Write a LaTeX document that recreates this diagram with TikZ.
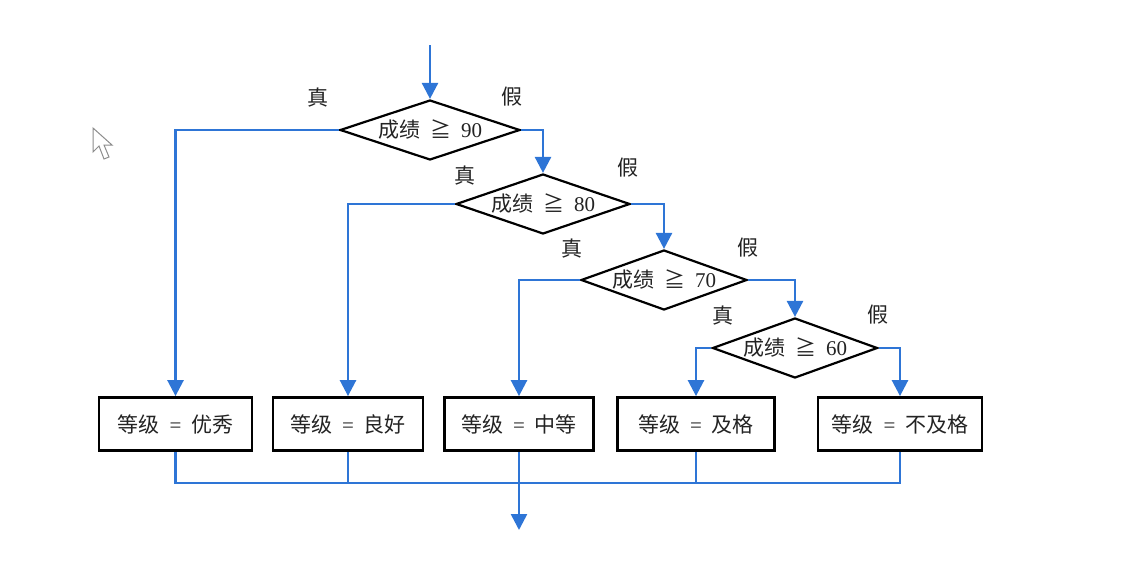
\documentclass[tikz,border=0pt]{standalone}
\usepackage{fontspec}
\setmainfont{Liberation Serif}
\newfontfamily\cjk{Noto Sans CJK SC}
\usetikzlibrary{arrows.meta,shapes.geometric}
\definecolor{flowblue}{RGB}{46,117,214}
\definecolor{ink}{RGB}{35,35,35}
\def\gap{\hspace{10pt}}
\tikzset{
  cond/.style={diamond, draw=black, line width=2.2pt, aspect=3, inner xsep=-12pt, inner ysep=-2pt,
    minimum height=60pt, minimum width=#1, text=ink, font=\fontsize{21}{21}\selectfont},
  grade/.style={rectangle, draw=black, line width=2.8pt, minimum height=53pt, minimum width=#1,
    text=ink, font=\fontsize{21}{21}\selectfont},
  tag/.style={text=ink, font=\cjk\fontsize{21}{21}\selectfont},
  link/.style={draw=flowblue, line width=2.6pt},
  flow/.style={link, -{Triangle[width=16pt,length=16pt]}}
}

\begin{document}
\begin{tikzpicture}[x=1pt,y=-1pt]
			%%%%% START %%%%%
			\useasboundingbox (0,0) rectangle (1122,565);
			
			\node[cond=180pt] (d90) at (430,130) {{\cjk 成绩}\gap{\cjk ≧}\gap 90};
			\node[cond=174pt] (d80) at (543,204) {{\cjk 成绩}\gap{\cjk ≧}\gap 80};
			\node[cond=166pt] (d70) at (664,280) {{\cjk 成绩}\gap{\cjk ≧}\gap 70};
			\node[cond=165pt] (d60) at (795,348) {{\cjk 成绩}\gap{\cjk ≧}\gap 60};
			
			\node[grade=153pt] (g1) at (175.5,424) {{\cjk 等级}\gap=\gap{\cjk 优秀}};
			\node[grade=150pt] (g2) at (348,424) {{\cjk 等级}\gap=\gap{\cjk 良好}};
			\node[grade=149pt] (g3) at (519,424) {{\cjk 等级}\gap=\gap{\cjk 中等}};
			\node[grade=157pt] (g4) at (696,424) {{\cjk 等级}\gap=\gap{\cjk 及格}};
			\node[grade=164pt] (g5) at (900,424) {{\cjk 等级}\gap=\gap{\cjk 不及格}};
			
			\node[tag] (t90) at (318,97) {真};
			\node[tag] (f90) at (512,97) {假};
			\node[tag] (t80) at (465,175) {真};
			\node[tag] (f80) at (628,168) {假};
			\node[tag] (t70) at (572,248) {真};
			\node[tag] (f70) at (748,248) {假};
			\node[tag] (t60) at (723,315) {真};
			\node[tag] (f60) at (878,315) {假};
			
			\coordinate (start) at (430,45);
			\coordinate (join) at (519,483);
			\coordinate (end) at (519,530);
			
			\draw[flow] (start) -- (d90.north);
			\draw[flow] (d90.west) -| (g1.north);
			\draw[flow] (d90.east) -| (d80.north);
			\draw[flow] (d80.west) -| (g2.north);
			\draw[flow] (d80.east) -| (d70.north);
			\draw[flow] (d70.west) -| (g3.north);
			\draw[flow] (d70.east) -| (d60.north);
			\draw[flow] (d60.west) -| (g4.north);
			\draw[flow] (d60.east) -| (g5.north);
			
			\draw[link] (g1.south) |- (join) -| (g5.south);
			\draw[link] (g2.south) -- (g2.south |- join);
			\draw[link] (g4.south) -- (g4.south |- join);
			\draw[flow] (g3.south) -- (end);
			
			% pointer
			\draw[line width=1pt, color=black!45, fill=white] (93,128) -- (93,152) -- (99,146) -- (104,159)
			  -- (109,157) -- (104,145) -- (112,145) -- cycle;
			
			%%%%% END %%%%%
		\end{tikzpicture}
\end{document}
